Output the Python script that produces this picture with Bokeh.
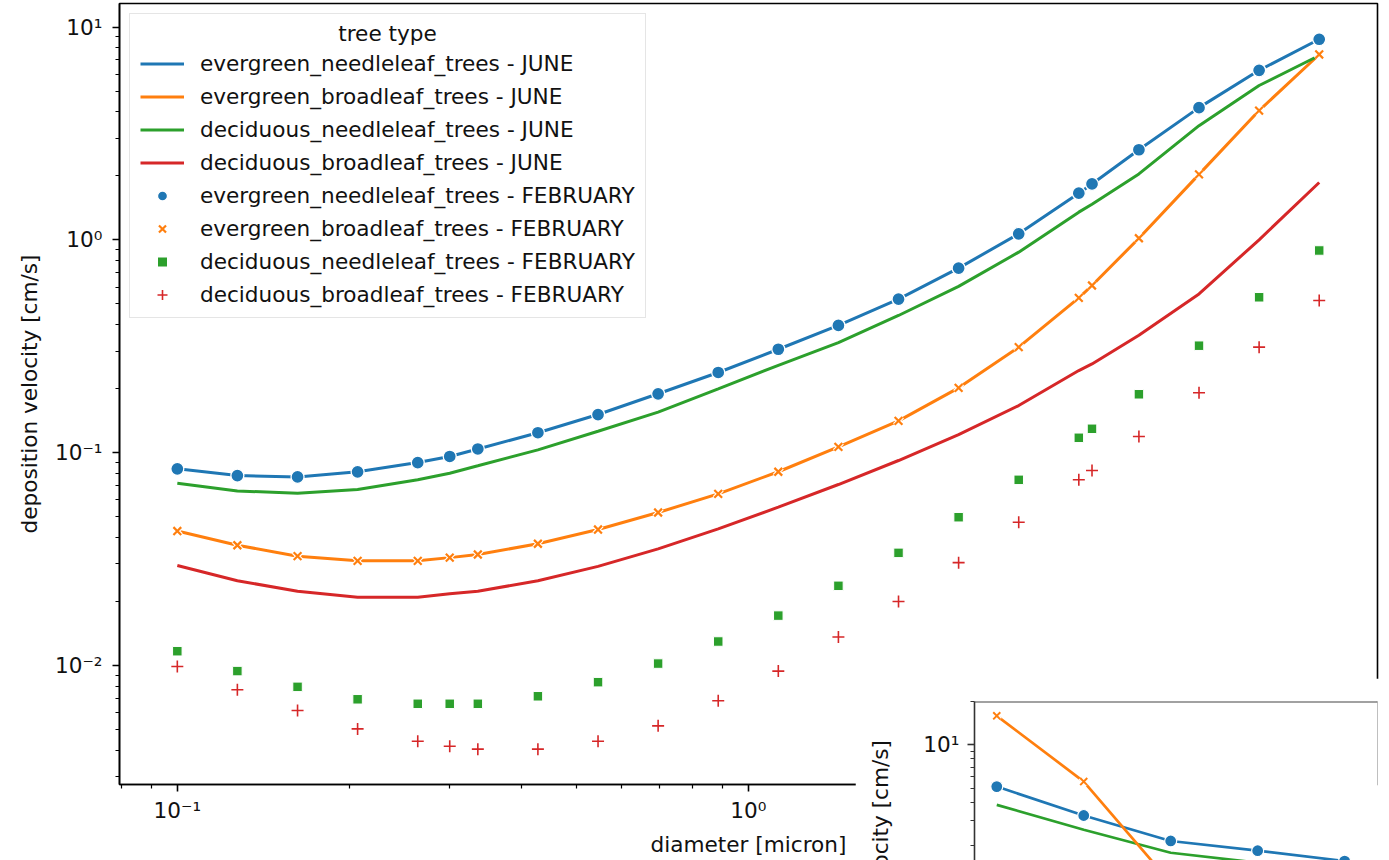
import math
from bokeh.plotting import figure
from bokeh.layouts import column
from bokeh.models import (Range1d, FixedTicker, CustomJSTickFormatter, Legend, LegendItem,
                          Label, Span)
from bokeh.embed import file_html
from bokeh.resources import INLINE

# ---------------- data ----------------
diameter = [0.1, 0.1274, 0.1624, 0.2069, 0.2637, 0.3, 0.336, 0.4281, 0.5456, 0.6952, 0.8859,
            1.1288, 1.4384, 1.833, 2.3357, 2.9764, 3.7927, 4.0, 4.8329, 6.1585, 7.8476, 10.0]

evergreen_needleleaf_june = [0.0839, 0.078, 0.0769, 0.0812, 0.0898, 0.0959, 0.104, 0.124, 0.151, 0.189,
                             0.238, 0.306, 0.396, 0.526, 0.736, 1.067, 1.656, 1.83, 2.65, 4.18, 6.26, 8.76]
evergreen_broadleaf_june = [0.0428, 0.0367, 0.0326, 0.031, 0.031, 0.0321, 0.0332, 0.0373, 0.0435, 0.0523,
                            0.064, 0.0813, 0.1064, 0.141, 0.2016, 0.313, 0.534, 0.61, 1.017, 2.03, 4.05, 7.43]
deciduous_needleleaf_june = [0.0718, 0.066, 0.0645, 0.0671, 0.0745, 0.080, 0.0867, 0.103, 0.126, 0.155,
                             0.1995, 0.257, 0.329, 0.441, 0.604, 0.875, 1.349, 1.47, 2.04, 3.44, 5.31, 7.35]
deciduous_broadleaf_june = [0.0295, 0.0250, 0.0223, 0.0209, 0.0209, 0.0217, 0.0223, 0.0250, 0.0292, 0.0353,
                            0.0438, 0.0554, 0.0708, 0.0918, 0.1216, 0.1664, 0.243, 0.261, 0.356, 0.557, 1.0, 1.86]

evergreen_needleleaf_feb = [0.0839, 0.078, 0.0769, 0.0812, 0.0898, 0.0959, 0.104, 0.124, 0.151, 0.189,
                            0.238, 0.306, 0.396, 0.526, 0.736, 1.067, 1.656, 1.83, 2.65, 4.18, 6.26, 8.76]
evergreen_broadleaf_feb = [0.0428, 0.0367, 0.0326, 0.031, 0.031, 0.0321, 0.0332, 0.0373, 0.0435, 0.0523,
                           0.064, 0.0813, 0.1064, 0.141, 0.2016, 0.313, 0.534, 0.61, 1.017, 2.03, 4.05, 7.43]
deciduous_needleleaf_feb = [0.01166, 0.0094, 0.00793, 0.00693, 0.0066, 0.0066, 0.0066, 0.00716, 0.00834, 0.0102,
                            0.01295, 0.01714, 0.02366, 0.0338, 0.0497, 0.0745, 0.1174, 0.1294, 0.188, 0.318, 0.537, 0.891]
deciduous_broadleaf_feb = [0.00988, 0.00768, 0.00614, 0.00503, 0.0044, 0.00417, 0.00404, 0.00404, 0.0044, 0.0052,
                           0.00682, 0.0094, 0.0136, 0.01996, 0.0304, 0.0471, 0.0745, 0.0824, 0.119, 0.191, 0.313, 0.519]

tree_types = ["evergreen_needleleaf_trees", "evergreen_broadleaf_trees",
              "deciduous_needleleaf_trees", "deciduous_broadleaf_trees"]
months = ["JUNE", "FEBRUARY"]
legend_title = "tree type"

# inset (partly visible) panel
inset_x = [1, 2, 3, 4, 5]
inset_evergreen_needleleaf = [5.13, 3.23, 2.15, 1.84, 1.56]
inset_evergreen_broadleaf = [15.9, 5.56, 1.1, 0.55, 0.3]
inset_deciduous_needleleaf = [3.83, 2.57, 1.78, 1.52, 1.4]

x_major = [0.1, 1.0, 10.0]
x_minor = [0.08, 0.09] + [k * 0.1 for k in range(2, 10)] + [float(k) for k in range(2, 10)]
y_major = [0.01, 0.1, 1.0, 10.0]
y_minor = ([k * 0.001 for k in range(2, 10)] + [k * 0.01 for k in range(2, 10)]
           + [k * 0.1 for k in range(2, 10)] + [float(k) for k in range(2, 10)])
inset_y_major = [10.0]
inset_y_minor = [float(k) for k in range(2, 10)] + [20.0]

# ---------------- style ----------------
FONT = "DejaVu Sans"
FS = "21.6px"
BLUE, ORANGE, GREEN, RED = "#1f77b4", "#ff7f0e", "#2ca02c", "#d62728"

fmt_code = """
const m = {"-":"\u207b","0":"\u2070","1":"\u00b9","2":"\u00b2","3":"\u00b3","4":"\u2074",
           "5":"\u2075","6":"\u2076","7":"\u2077","8":"\u2078","9":"\u2079"};
const e = Math.round(Math.log10(tick));
return "10" + String(e).split("").map(c => m[c]).join("");
"""


def style_axis(ax, color="black"):
    ax.axis_line_color = color
    ax.axis_line_width = 1.6
    ax.major_tick_line_color = color
    ax.minor_tick_line_color = color
    ax.major_tick_line_width = 1.6
    ax.minor_tick_line_width = 1.2
    ax.major_tick_out = 7
    ax.major_tick_in = 0
    ax.minor_tick_out = 4
    ax.minor_tick_in = 0
    ax.major_label_text_font = FONT
    ax.major_label_text_font_size = FS
    ax.major_label_text_color = "#111111"
    ax.axis_label_text_font = FONT
    ax.axis_label_text_font_size = FS
    ax.axis_label_text_font_style = "normal"
    ax.axis_label_text_color = "#111111"


# ---------------- main figure ----------------
p = figure(width=1389, height=860, x_axis_type="log", y_axis_type="log",
           x_range=Range1d(0.0792, 12.65), y_range=Range1d(0.002756, 12.9),
           output_backend="svg", toolbar_location=None,
           min_border_left=119, min_border_right=12, min_border_top=3, min_border_bottom=76)
p.xgrid.visible = False
p.ygrid.visible = False
p.outline_line_color = "black"
p.outline_line_width = 1.6
p.outline_line_alpha = 1.0

xa = p.xaxis[0]
ya = p.yaxis[0]
style_axis(xa)
style_axis(ya)
xa.ticker = FixedTicker(ticks=x_major, minor_ticks=x_minor)
ya.ticker = FixedTicker(ticks=y_major, minor_ticks=y_minor)
xa.formatter = CustomJSTickFormatter(code=fmt_code)
ya.formatter = CustomJSTickFormatter(code=fmt_code)
xa.axis_label = "diameter [micron]"
ya.axis_label = "deposition velocity [cm/s]"
xa.major_label_standoff = 6
ya.major_label_standoff = 10
xa.axis_label_standoff = 6
ya.axis_label_standoff = 10

june_series = [evergreen_needleleaf_june, evergreen_broadleaf_june,
               deciduous_needleleaf_june, deciduous_broadleaf_june]
colors = [BLUE, ORANGE, GREEN, RED]
line_renderers = []
for vals, c in zip(june_series, colors):
    line_renderers.append(p.line(diameter, vals, line_color=c, line_width=3))

m1 = p.scatter(diameter, evergreen_needleleaf_feb, marker="circle", size=13,
               fill_color=BLUE, line_color="white", line_width=1.3)
m2h = p.scatter(diameter, evergreen_broadleaf_feb, marker="x", size=11,
                line_color="white", line_width=4.5)
m2 = p.scatter(diameter, evergreen_broadleaf_feb, marker="x", size=11,
               line_color=ORANGE, line_width=2.2)
m3 = p.scatter(diameter, deciduous_needleleaf_feb, marker="square", size=9.5,
               fill_color=GREEN, line_color="white", line_width=1.0)
m4 = p.scatter(diameter, deciduous_broadleaf_feb, marker="cross", size=12,
               line_color=RED, line_width=1.6)
marker_renderers = [[m1], [m2h, m2], [m3], [m4]]

items = []
for t, r in zip(tree_types, line_renderers):
    items.append(LegendItem(label=f"{t} - {months[0]}", renderers=[r]))
for t, rs in zip(tree_types, marker_renderers):
    items.append(LegendItem(label=f"{t} - {months[1]}", renderers=rs))

# the legend box sits over empty white plot area, so a transparent fill looks the same
# and keeps the centered title label fully visible
legend = Legend(items=items, location="top_left", margin=10, padding=10,
                title=" ", title_text_font=FONT, title_text_font_size=FS, title_standoff=2,
                label_text_font=FONT, label_text_font_size=FS, label_text_color="#111111",
                label_height=25, glyph_height=25, glyph_width=44, label_standoff=16, spacing=8,
                border_line_color="#cccccc", border_line_width=1.5,
                background_fill_color="white", background_fill_alpha=0.0)
p.add_layout(legend)
# centered legend title (screen units are relative to the plot frame)
p.add_layout(Label(x=268, y=751, x_units="screen", y_units="screen", text=legend_title,
                   text_align="center", text_baseline="middle", text_font=FONT,
                   text_font_size=FS, text_color="#111111", level="overlay"))

# ---------------- inset figure (cut off by the window) ----------------
q = figure(width=534, height=379, y_axis_type="log",
           x_range=Range1d(0.744, 5.378), y_range=Range1d(0.0674, 20.0),
           x_axis_location=None, output_backend="svg", toolbar_location=None,
           min_border_left=117, min_border_right=0, min_border_top=23, min_border_bottom=0)
q.grid.visible = False
q.outline_line_color = None
qa = q.yaxis[0]
style_axis(qa, color="#333333")
qa.ticker = FixedTicker(ticks=inset_y_major, minor_ticks=inset_y_minor)
qa.formatter = CustomJSTickFormatter(code=fmt_code)
qa.major_label_standoff = 8
qa.axis_label = "deposition velocity [cm/s]"
qa.axis_label_standoff = 27
q.add_layout(Span(location=20.0, dimension="width", line_color="#444444", line_width=2))

q.line(inset_x, inset_evergreen_needleleaf, line_color=BLUE, line_width=2.7)
q.line(inset_x, inset_deciduous_needleleaf, line_color=GREEN, line_width=2.7)
q.line(inset_x, inset_evergreen_broadleaf, line_color=ORANGE, line_width=2.7)
q.scatter(inset_x, inset_evergreen_needleleaf, marker="circle", size=12,
          fill_color=BLUE, line_color="white", line_width=1.2)
q.scatter(inset_x, inset_evergreen_broadleaf, marker="x", size=10, line_color="white", line_width=4)
q.scatter(inset_x, inset_evergreen_broadleaf, marker="x", size=10, line_color=ORANGE, line_width=2)
q.styles = {"position": "absolute", "left": "855px", "top": "678px"}

layout = column(p, q, spacing=0)
layout.styles = {"position": "relative", "overflow": "hidden", "width": "1389px", "height": "860px"}

open("out.html", "w").write(file_html(layout, INLINE))
